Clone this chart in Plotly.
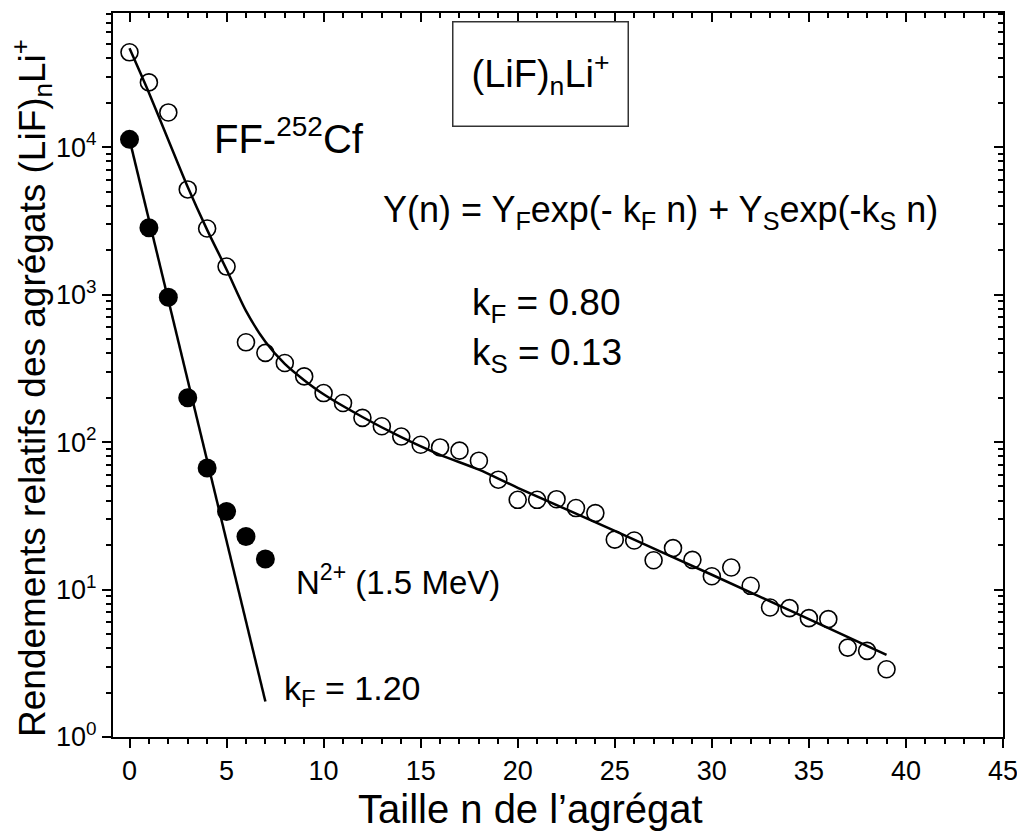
import plotly.graph_objects as go

# ---- data ----
n_ff = list(range(0, 40))
y_ff = [44000, 27500, 17200, 5170, 2810, 1550, 475, 403, 344, 279,
        215, 184, 146, 128, 109, 96, 92, 87.5, 74.8, 55.6,
        40.6, 40.6, 41, 35.7, 33, 21.8, 21.5, 15.8, 19.1, 15.9,
        12.3, 14.1, 10.6, 7.55, 7.48, 6.4, 6.3, 4.04, 3.84, 2.88]

n_n2 = [0, 1, 2, 3, 4, 5, 6, 7]
y_n2 = [11300, 2840, 960, 200, 66.7, 33.8, 22.9, 16.1]

# fitted curves
fit_ff_n = [0, 1, 2, 3, 4, 5, 6, 7, 8, 9, 10, 12, 14, 16, 18, 20, 25, 30, 35, 39]
fit_ff_y = [46800, 23400, 11200, 5370, 2750, 1480, 776, 479, 339, 263,
            211, 148, 108, 82, 65, 49, 25, 12.6, 6.3, 3.6]

fit_n2_n = [0, 7]
fit_n2_y = [11300, 1.74]

xtick_vals = [0, 5, 10, 15, 20, 25, 30, 35, 40, 45]
ytick_vals = [1, 10, 100, 1000, 10000]
ytick_text = ["10<sup>0</sup>", "10<sup>1</sup>", "10<sup>2</sup>", "10<sup>3</sup>", "10<sup>4</sup>"]

FONT = "Arial, Liberation Sans, Helvetica, sans-serif"
X_RANGE = [-0.85, 45]
Y_RANGE = [0, 4.91]

fig = go.Figure()

fig.add_trace(go.Scatter(x=fit_ff_n, y=fit_ff_y, mode="lines",
                         line=dict(color="black", width=2.5, shape="spline", smoothing=0.8),
                         showlegend=False, hoverinfo="skip"))
fig.add_trace(go.Scatter(x=fit_n2_n, y=fit_n2_y, mode="lines",
                         line=dict(color="black", width=2.5),
                         showlegend=False, hoverinfo="skip"))
fig.add_trace(go.Scatter(x=n_ff, y=y_ff, mode="markers",
                         marker=dict(symbol="circle-open", size=17, color="black",
                                     line=dict(width=1.6, color="#222222")),
                         showlegend=False))
fig.add_trace(go.Scatter(x=n_n2, y=y_n2, mode="markers",
                         marker=dict(symbol="circle", size=19, color="black"),
                         showlegend=False))

axis_common = dict(showgrid=False, zeroline=False, linecolor="black", linewidth=2, automargin=False)

fig.update_layout(
    width=1017, height=837,
    margin=dict(l=113, r=14, t=13, b=100),
    paper_bgcolor="white", plot_bgcolor="white",
    font=dict(family=FONT, color="black"),
    xaxis=dict(
        **axis_common, range=X_RANGE, showline=True, mirror=True,
        tickvals=xtick_vals, ticks="outside", ticklen=9, tickwidth=2, tickcolor="black",
        minor=dict(dtick=1, tick0=0, ticks="outside", ticklen=5, tickwidth=2, tickcolor="black"),
        tickfont=dict(size=27, family=FONT), ticklabeloverflow="allow",
    ),
    yaxis=dict(
        **axis_common, type="log", range=Y_RANGE, showline=True, mirror=True,
        tickvals=ytick_vals, ticktext=ytick_text,
        ticks="outside", ticklen=9, tickwidth=2, tickcolor="black",
        minor=dict(ticks="outside", ticklen=5, tickwidth=1.5, tickcolor="black", dtick="D1"),
        tickfont=dict(size=27, family=FONT),
    ),
    xaxis2=dict(
        **axis_common, range=X_RANGE, overlaying="x", side="top", anchor="y",
        showline=True, showticklabels=False,
        tickvals=xtick_vals, ticks="inside", ticklen=9, tickwidth=2, tickcolor="black",
        minor=dict(dtick=1, tick0=0, ticks="inside", ticklen=5, tickwidth=2, tickcolor="black"),
    ),
    yaxis2=dict(
        **axis_common, type="log", range=Y_RANGE, overlaying="y", side="right", anchor="x",
        showline=True, showticklabels=False,
        tickvals=ytick_vals, ticks="inside", ticklen=9, tickwidth=2, tickcolor="black",
        minor=dict(ticks="inside", ticklen=5, tickwidth=1.5, tickcolor="black", dtick="D1"),
    ),
)

# invisible trace so the mirrored axes get drawn
fig.add_trace(go.Scatter(x=[X_RANGE[0]], y=[10], xaxis="x2", yaxis="y2", mode="markers",
                         marker=dict(opacity=0), showlegend=False, hoverinfo="skip"))


def px_to_paper(px, py):
    return (px - 113) / 890.0, (737 - py) / 724.0


def add_text(text, px, py, size, xanchor="left", angle=0):
    xp, yp = px_to_paper(px, py)
    fig.add_annotation(text=text, x=xp, y=yp, xref="paper", yref="paper",
                       xanchor=xanchor, yanchor="middle", showarrow=False, textangle=angle,
                       font=dict(size=size, family=FONT, color="black"))


# axis titles
add_text("Taille n de l\u2019agr\u00e9gat", 530, 809, 40, xanchor="center")
add_text("Rendements relatifs des agr\u00e9gats (LiF)<sub>n</sub>Li<sup>+</sup>", 32, 388, 37,
         xanchor="center", angle=-90)

# boxed label
bx, by = px_to_paper(540, 74)
fig.add_annotation(text="(LiF)<sub>n</sub>Li<sup>+</sup>", x=bx, y=by, xref="paper", yref="paper",
                   xanchor="center", yanchor="middle", showarrow=False,
                   font=dict(size=38, family=FONT, color="black"),
                   bordercolor="#333333", borderwidth=1.5, borderpad=0,
                   width=174, height=103, bgcolor="white")

add_text("FF-<sup>252</sup>Cf", 212, 136, 40)
add_text("Y(n) = Y<sub>F</sub>exp(- k<sub>F</sub> n) + Y<sub>S</sub>exp(-k<sub>S</sub> n)", 381, 212, 36)
add_text("k<sub>F</sub> = 0.80", 470, 305, 37)
add_text("k<sub>S</sub> = 0.13", 470, 355, 37)
add_text("N<sup>2+</sup> (1.5 MeV)", 294, 580, 33)
add_text("k<sub>F</sub> = 1.20", 282, 690, 34)

fig.write_html("out.html", config={"displayModeBar": False},
               post_script="document.body.style.margin='0';document.body.style.overflow='hidden';")
